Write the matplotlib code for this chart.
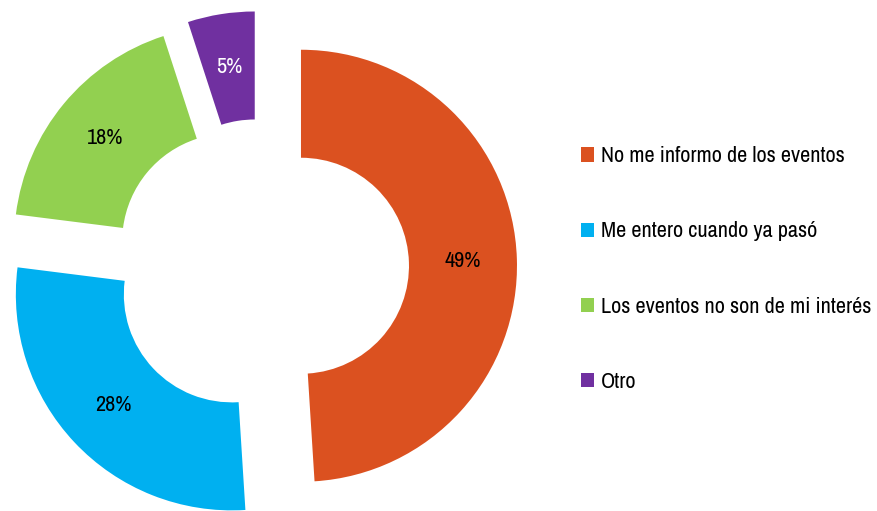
import matplotlib
matplotlib.use("Agg")
import matplotlib.pyplot as plt
from matplotlib import font_manager

categories = ["No me informo de los eventos", "Me entero cuando ya pasó",
              "Los eventos no son de mi interés", "Otro"]
values = [49, 28, 18, 5]
colors = ["#DB5120", "#00B0F0", "#92D050", "#7030A0"]
pct_colors = ["black", "black", "black", "white"]

# look for a narrow / condensed face, the reference uses a condensed DIN-like font
narrow = None
for f in font_manager.fontManager.ttflist:
    if f.style != 'normal' or f.weight not in (400, 'normal', 'regular'):
        continue
    if 'Narrow' in f.name or 'Condensed' in f.name or f.stretch in ('condensed', 'semi-condensed', 'extra-condensed'):
        if narrow is None or 'Oblique' not in f.fname:
            narrow = f
            if 'Narrow' in f.name or 'Condensed' in f.name:
                break

if narrow is not None:
    fp = font_manager.FontProperties(fname=narrow.fname, size=16)
    fp_pct = font_manager.FontProperties(fname=narrow.fname, size=16)
else:
    fp = font_manager.FontProperties(family='DejaVu Sans', size=12.5)
    fp_pct = font_manager.FontProperties(family='DejaVu Sans', size=14)

W, H = 878, 511
fig = plt.figure(figsize=(W / 100, H / 100), dpi=100)
ax = fig.add_axes([0, 0, 1, 1])

R = 216
wedges, texts, autotexts = ax.pie(
    values, colors=colors, startangle=90, counterclock=False,
    center=(261, H - 267), radius=R, explode=[40] * len(values),
    autopct='%d%%', pctdistance=0.75,
    wedgeprops=dict(width=R * 0.5, linewidth=0), frame=True)
for t, c in zip(autotexts, pct_colors):
    t.set_color(c)
    t.set_fontproperties(fp_pct)
ax.set_xlim(0, W)
ax.set_ylim(0, H)
ax.set_aspect('equal')
ax.axis('off')

leg = fig.legend(wedges, categories, loc='center left',
                 bbox_to_anchor=(561 / W, 1 - 269 / H), frameon=False,
                 prop=fp, labelspacing=2.48, handlelength=0.6,
                 handleheight=0.6, handletextpad=0.3)

fig.savefig("out.png", dpi=100)
